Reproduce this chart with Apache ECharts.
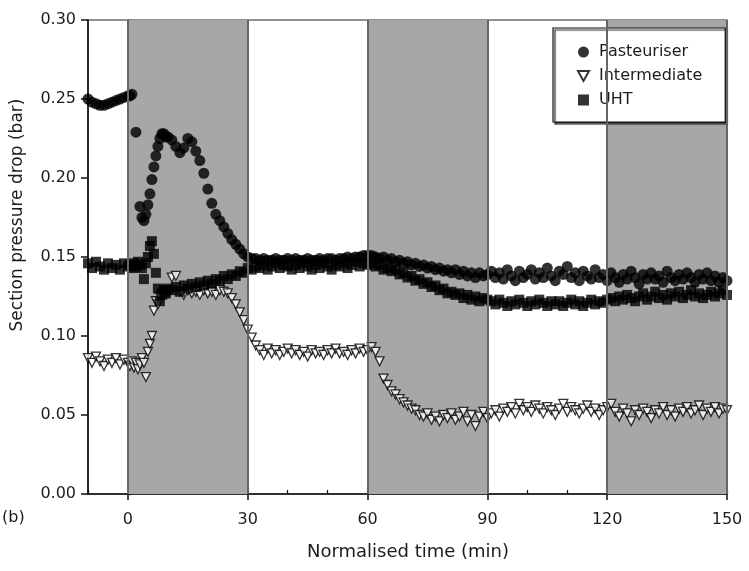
<!DOCTYPE html>
<html>
<head>
<meta charset="utf-8">
<script src="https://cdn.jsdelivr.net/npm/echarts@6/dist/echarts.min.js"></script>
<style>
  html, body { margin: 0; padding: 0; background: #fff; }
  #chart { width: 749px; height: 571px; }
</style>
</head>
<body>
<div id="chart"></div>
<script>
// Sampling times (min), shared by the three sections
const times = [
  -10, -9, -8, -7, -6, -5, -4, -3, -2, -1, 0,
  0.5, 1, 1.5, 2, 2.5, 3, 3.5, 4, 4.5, 5, 5.5, 6, 6.5, 7, 7.5, 8, 8.5, 9, 9.5, 10,
  11, 12, 13, 14, 15, 16, 17, 18, 19, 20,
  21, 22, 23, 24, 25, 26, 27, 28, 29, 30,
  31, 32, 33, 34, 35, 36, 37, 38, 39, 40,
  41, 42, 43, 44, 45, 46, 47, 48, 49, 50,
  51, 52, 53, 54, 55, 56, 57, 58, 59, 60,
  61, 62, 63, 64, 65, 66, 67, 68, 69, 70,
  71, 72, 73, 74, 75, 76, 77, 78, 79, 80,
  81, 82, 83, 84, 85, 86, 87, 88, 89, 90,
  91, 92, 93, 94, 95, 96, 97, 98, 99, 100,
  101, 102, 103, 104, 105, 106, 107, 108, 109, 110,
  111, 112, 113, 114, 115, 116, 117, 118, 119, 120,
  121, 122, 123, 124, 125, 126, 127, 128, 129, 130,
  131, 132, 133, 134, 135, 136, 137, 138, 139, 140,
  141, 142, 143, 144, 145, 146, 147, 148, 149, 150
];

// Section pressure drop (bar); null = no reading at that time
const pasteuriser = [
  0.250, 0.248, 0.247, 0.246, 0.246, 0.247, 0.248, 0.249, 0.250, 0.251, 0.252,
  0.252, 0.253, null, 0.229, null, 0.182, 0.175, 0.173, 0.177, 0.183, 0.190, 0.199, 0.207, 0.214, 0.220, 0.225, 0.228, 0.228, 0.226, 0.226,
  0.224, 0.220, 0.216, 0.219, 0.225, 0.223, 0.217, 0.211, 0.203, 0.193,
  0.184, 0.177, 0.173, 0.169, 0.165, 0.161, 0.158, 0.155, 0.152, 0.150,
  0.149, 0.149, 0.148, 0.149, 0.148, 0.148, 0.149, 0.148, 0.148, 0.149,
  0.148, 0.149, 0.148, 0.148, 0.149, 0.148, 0.148, 0.149, 0.148, 0.149,
  0.149, 0.148, 0.149, 0.149, 0.150, 0.149, 0.150, 0.150, 0.151, 0.151,
  0.151, 0.150, 0.149, 0.150, 0.148, 0.149, 0.147, 0.148, 0.146, 0.147,
  0.145, 0.146, 0.144, 0.145, 0.143, 0.144, 0.142, 0.143, 0.141, 0.142,
  0.140, 0.142, 0.139, 0.141, 0.138, 0.140, 0.137, 0.140, 0.138, 0.139,
  0.141, 0.137, 0.140, 0.136, 0.142, 0.138, 0.135, 0.141, 0.137, 0.139,
  0.142, 0.136, 0.140, 0.137, 0.143, 0.138, 0.135, 0.141, 0.139, 0.144,
  0.137, 0.140, 0.135, 0.141, 0.138, 0.136, 0.142, 0.137, 0.139, 0.135,
  0.140, 0.137, 0.134, 0.139, 0.136, 0.141, 0.137, 0.133, 0.139, 0.136,
  0.140, 0.136, 0.138, 0.134, 0.141, 0.137, 0.135, 0.139, 0.136, 0.140,
  0.137, 0.134, 0.139, 0.136, 0.140, 0.135, 0.138, 0.134, 0.137, 0.135
];

const intermediate = [
  0.086, 0.083, 0.087, 0.084, 0.081, 0.085, 0.083, 0.086, 0.082, 0.085, 0.083,
  0.081, 0.084, 0.080, 0.083, 0.079, 0.082, 0.086, 0.083, 0.074, 0.090, 0.095, 0.100, 0.116, 0.122, 0.120, 0.125, 0.127, 0.126, 0.128, 0.127,
  0.137, 0.138, 0.128, 0.126, 0.129, 0.127, 0.128, 0.126, 0.129, 0.127,
  0.128, 0.126, 0.129, 0.128, 0.127, 0.124, 0.120, 0.115, 0.110, 0.104,
  0.099, 0.094, 0.091, 0.088, 0.092, 0.089, 0.091, 0.088, 0.090, 0.092,
  0.089, 0.091, 0.088, 0.090, 0.087, 0.091, 0.089, 0.090, 0.088, 0.091,
  0.089, 0.092, 0.089, 0.090, 0.088, 0.091, 0.089, 0.092, 0.090, 0.091,
  0.093, 0.090, 0.084, 0.073, 0.069, 0.065, 0.063, 0.060, 0.058, 0.056,
  0.054, 0.053, 0.050, 0.049, 0.051, 0.047, 0.049, 0.046, 0.050, 0.048,
  0.051, 0.047, 0.049, 0.052, 0.046, 0.050, 0.043, 0.049, 0.052, 0.048,
  0.051, 0.053, 0.049, 0.054, 0.052, 0.055, 0.051, 0.057, 0.053, 0.055,
  0.052, 0.056, 0.054, 0.051, 0.055, 0.053, 0.050, 0.054, 0.057, 0.052,
  0.055, 0.053, 0.051, 0.054, 0.056, 0.052, 0.054, 0.050, 0.053, 0.055,
  0.057, 0.052, 0.049, 0.054, 0.051, 0.046, 0.053, 0.050, 0.054, 0.052,
  0.048, 0.053, 0.051, 0.055, 0.050, 0.053, 0.049, 0.054, 0.052, 0.055,
  0.051, 0.053, 0.056, 0.050, 0.054, 0.052, 0.055, 0.051, 0.054, 0.053
];

const uht = [
  0.146, 0.143, 0.147, 0.144, 0.142, 0.146, 0.143, 0.145, 0.142, 0.146, 0.144,
  0.145, 0.143, 0.146, 0.144, 0.147, 0.145, 0.143, 0.136, 0.146, 0.150, 0.157, 0.160, 0.152, 0.140, 0.130, 0.122, 0.126, 0.129, 0.127, 0.130,
  0.129, 0.131, 0.128, 0.132, 0.130, 0.133, 0.131, 0.134, 0.132, 0.135,
  0.133, 0.136, 0.135, 0.138, 0.136, 0.139, 0.138, 0.141, 0.140, 0.143,
  0.142, 0.144, 0.143, 0.145, 0.142, 0.144, 0.146, 0.143, 0.145, 0.144,
  0.142, 0.145, 0.143, 0.146, 0.144, 0.142, 0.145, 0.143, 0.146, 0.144,
  0.142, 0.145, 0.144, 0.146, 0.143, 0.145, 0.147, 0.144, 0.146, 0.145,
  0.146, 0.144, 0.145, 0.142, 0.143, 0.141, 0.142, 0.139, 0.140, 0.137,
  0.138, 0.135, 0.136, 0.133, 0.134, 0.131, 0.132, 0.129, 0.130, 0.127,
  0.128, 0.126, 0.127, 0.124, 0.126, 0.123, 0.125, 0.122, 0.124, 0.123,
  0.122, 0.120, 0.123, 0.121, 0.119, 0.122, 0.120, 0.123, 0.121, 0.119,
  0.122, 0.120, 0.123, 0.121, 0.119, 0.122, 0.120, 0.122, 0.119, 0.121,
  0.123, 0.120, 0.122, 0.119, 0.121, 0.123, 0.120, 0.122, 0.121, 0.123,
  0.124, 0.122, 0.125, 0.123, 0.126, 0.124, 0.122, 0.125, 0.127, 0.123,
  0.125, 0.128, 0.124, 0.126, 0.123, 0.127, 0.125, 0.128, 0.124, 0.126,
  0.129, 0.125, 0.127, 0.124, 0.126, 0.128, 0.125, 0.127, 0.129, 0.126
];

// Axis ticks and the shaded process phases (min)
const xTicks = [0, 30, 60, 90, 120, 150];
const yTicks = [0, 0.05, 0.10, 0.15, 0.20, 0.25, 0.30];
const shadedPhases = [[0, 30], [60, 90], [120, 150]];
const phaseEdges = [0, 30, 60, 90, 120, 150];

const FONT = 'DejaVu Sans';
const INK = '#1c1c1c';
const DOWN_TRIANGLE = 'path://M0,0L10,0L5,9Z';

function toPoints(values) {
  return times.map((t, i) => [t, values[i]]).filter(p => p[1] !== null);
}

const chart = echarts.init(document.getElementById('chart'), null, { renderer: 'canvas' });

chart.setOption({
  animation: false,
  backgroundColor: '#ffffff',
  grid: {
    left: 88, right: 22, top: 20, bottom: 77,
    show: true, borderColor: '#222', borderWidth: 1.2, backgroundColor: 'transparent'
  },
  xAxis: [
    {
      type: 'value', min: -10, max: 150, position: 'bottom',
      axisLine: { show: true, onZero: false, lineStyle: { color: '#111', width: 1.5 } },
      axisTick: { show: true, customValues: xTicks, length: 6, lineStyle: { color: '#111', width: 1.5 } },
      axisLabel: { customValues: xTicks, fontFamily: FONT, fontSize: 16, color: INK, margin: 18 },
      splitLine: { show: false }
    },
    {
      type: 'value', min: -10, max: 150, interval: 10, position: 'bottom',
      axisLine: { show: false },
      axisTick: { show: true, inside: true, length: 4, lineStyle: { color: '#111', width: 1.2 } },
      axisLabel: { show: false },
      splitLine: { show: false }
    }
  ],
  yAxis: [
    {
      type: 'value', min: 0, max: 0.3, position: 'left',
      axisLine: { show: true, onZero: false, lineStyle: { color: '#111', width: 1.5 } },
      axisTick: { show: true, customValues: yTicks, length: 7, lineStyle: { color: '#111', width: 1.5 } },
      axisLabel: {
        customValues: yTicks, fontFamily: FONT, fontSize: 16, color: INK, margin: 12,
        formatter: v => v.toFixed(2)
      },
      splitLine: { show: false }
    },
    {
      type: 'value', min: 0, max: 0.3, interval: 0.01, position: 'left',
      axisLine: { show: false },
      axisTick: { show: true, inside: true, length: 4, lineStyle: { color: '#111', width: 1.2 } },
      axisLabel: { show: false },
      splitLine: { show: false }
    }
  ],
  legend: {
    orient: 'vertical',
    left: 553, top: 28,
    padding: [16, 23, 14, 24],
    itemGap: 8, itemWidth: 11, itemHeight: 11,
    backgroundColor: '#ffffff',
    borderColor: '#111', borderWidth: 1.2,
    shadowColor: '#222', shadowBlur: 1, shadowOffsetX: 2, shadowOffsetY: 2,
    textStyle: { fontFamily: FONT, fontSize: 16, color: INK, padding: [0, 0, 0, 5] },
    data: [
      { name: 'Pasteuriser', icon: 'circle' },
      { name: 'Intermediate', icon: DOWN_TRIANGLE },
      { name: 'UHT', icon: 'rect' }
    ]
  },
  graphic: [
    {
      type: 'text', x: 18, y: 215, rotation: Math.PI / 2,
      style: {
        text: 'Section pressure drop (bar)', fontFamily: FONT, fontSize: 17, fill: INK,
        textAlign: 'center', textVerticalAlign: 'middle', align: 'center', verticalAlign: 'middle'
      }
    },
    {
      type: 'text', x: 408, y: 552,
      style: {
        text: 'Normalised time (min)', fontFamily: FONT, fontSize: 18, fill: INK,
        textAlign: 'center', textVerticalAlign: 'middle', align: 'center', verticalAlign: 'middle'
      }
    },
    {
      type: 'text', x: 2, y: 518,
      style: {
        text: '(b)', fontFamily: FONT, fontSize: 16, fill: INK,
        textAlign: 'left', textVerticalAlign: 'middle', align: 'left', verticalAlign: 'middle'
      }
    }
  ],
  series: [
    {
      // shaded phases and their boundary lines
      type: 'scatter', data: [], silent: true, z: 1,
      markArea: {
        silent: true,
        itemStyle: { color: '#a7a7a7' },
        data: shadedPhases.map(p => [{ xAxis: p[0] }, { xAxis: p[1] }])
      },
      markLine: {
        silent: true, symbol: ['none', 'none'], label: { show: false },
        lineStyle: { color: '#666', width: 2, type: 'solid' },
        data: phaseEdges.map(x => ({ xAxis: x }))
      }
    },
    {
      name: 'Pasteuriser', type: 'scatter', data: toPoints(pasteuriser),
      symbol: 'circle', symbolSize: 11, clip: false, z: 3,
      itemStyle: { color: '#000' }
    },
    {
      name: 'Intermediate', type: 'scatter', data: toPoints(intermediate),
      symbol: 'triangle', symbolRotate: 180, symbolSize: 9, clip: false, z: 3,
      itemStyle: { color: '#fff', borderColor: '#000', borderWidth: 1.3 }
    },
    {
      name: 'UHT', type: 'scatter', data: toPoints(uht),
      symbol: 'rect', symbolSize: 10, clip: false, z: 3,
      itemStyle: { color: '#000' }
    }
  ]
});
</script>
</body>
</html>
